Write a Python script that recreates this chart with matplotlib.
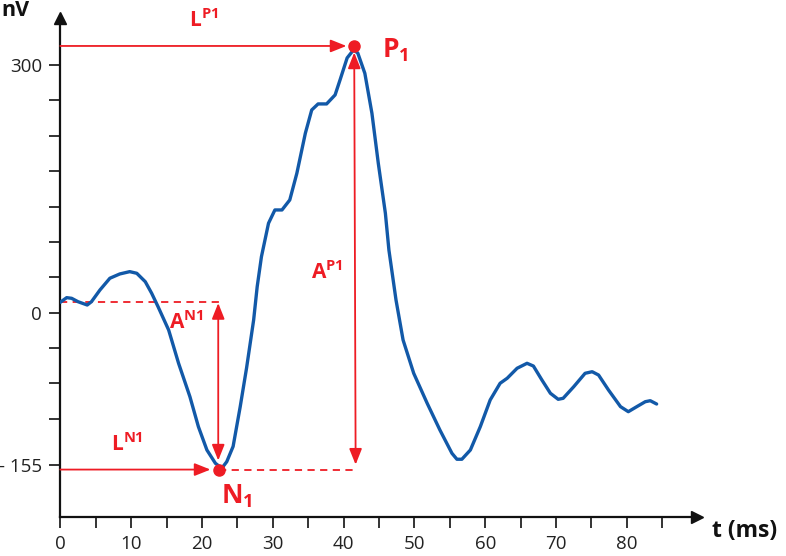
import matplotlib
matplotlib.use("Agg")
import matplotlib.pyplot as plt
import numpy as np

plt.rcParams['font.family'] = ['Open Sans', 'DejaVu Sans']
plt.rcParams['mathtext.fontset'] = 'custom'
plt.rcParams['mathtext.bf'] = 'Open Sans:bold'
plt.rcParams['mathtext.rm'] = 'Open Sans'
plt.rcParams['mathtext.it'] = 'Open Sans:italic'

# ---- data ----
t_ms = [0.0, 0.9, 1.6, 2.5, 3.8, 4.4, 5.6, 7.0, 8.4, 9.8, 10.8, 12.0, 12.9, 13.8,
        15.3, 16.7, 18.3, 19.5, 20.7, 21.9, 22.8, 23.5, 24.4, 25.4, 26.3, 27.3,
        27.8, 28.4, 29.4, 30.3, 31.3, 32.4, 33.4, 34.6, 35.5, 36.4, 37.6, 38.8,
        39.5, 40.5, 41.4, 42.0, 43.0, 44.0, 44.9, 45.9, 46.4, 47.4, 48.4, 49.9,
        51.8, 53.6, 55.3, 56.0, 56.7, 57.9, 59.3, 60.7, 62.1, 63.1, 64.5, 65.9,
        66.8, 68.0, 69.2, 70.3, 71.0, 72.5, 74.1, 75.1, 76.0, 77.4, 79.1, 80.2,
        81.4, 82.6, 83.3, 84.2]
amp_nv = [12.6, 18.2, 17.4, 13.3, 9.3, 13.3, 27.5, 41.7, 46.9, 49.7, 47.7, 37.5, 23.5, 7.3,
          -21.0, -61.3, -101.7, -138.1, -166.3, -182.4, -188.4, -180.5, -162.0, -114.0, -67.0, -8.8,
          31.5, 67.8, 108.3, 124.4, 124.4, 136.5, 168.8, 217.3, 245.5, 252.8, 252.8, 263.7,
          281.9, 308.5, 318.2, 314.5, 289.9, 241.5, 180.9, 120.4, 75.8, 15.4, -33.1, -73.4,
          -109.7, -142.1, -170.3, -177.5, -177.5, -166.3, -138.1, -105.7, -85.5, -79.4, -67.3, -61.3,
          -64.6, -81.5, -97.6, -104.9, -103.7, -89.6, -73.4, -71.5, -75.5, -93.6, -113.8, -119.9,
          -113.8, -107.8, -106.6, -110.6]

x_major = [0, 10, 20, 30, 40, 50, 60, 70, 80]
x_minor = [5, 15, 25, 35, 45, 55, 65, 75, 85]
y_tick_pos = [300, 0, -184]
y_tick_labels = ['300', '0', '- 155']
y_minor = [k * 300 / 7 for k in range(-3, 7)]

P1 = (41.4, 323)        # peak marker
N1 = (22.4, -191)       # trough marker
N1_baseline = 12.6      # baseline level used for A^N1

RED = '#ee1c24'
BLUE = '#1259a8'

W, H = 786, 556
fig = plt.figure(figsize=(W / 100, H / 100), dpi=100)
# axes placed so the spines sit where the reference draws them
x0, xa, ytop, yax = 60.3, 697, 18.3, 517.3
ax = fig.add_axes([x0 / W, (H - yax) / H, (xa - x0) / W, (yax - ytop) / H])
ax.set_xlim(0, 89.9)
ax.set_ylim(-247.8, 356.5)

for s in ['top', 'right']:
    ax.spines[s].set_visible(False)
for s in ['left', 'bottom']:
    ax.spines[s].set_linewidth(1.6)
    ax.spines[s].set_color('#111111')

ax.plot(1, 0, '>', color='#111111', ms=9, transform=ax.transAxes, clip_on=False)
ax.plot(0, 1, '^', color='#111111', ms=9, transform=ax.transAxes, clip_on=False)

ax.set_xticks(x_major)
ax.set_xticklabels([str(v) for v in x_major])
ax.set_xticks(x_minor, minor=True)
ax.set_yticks(y_tick_pos)
ax.set_yticklabels(y_tick_labels)
ax.set_yticks(y_minor, minor=True)
ax.tick_params(which='both', direction='out', length=8, width=1.2, color='#111111')
ax.tick_params(axis='x', pad=5, labelsize=13.5, labelcolor='#222222')
ax.tick_params(axis='y', pad=5, labelsize=13.5, labelcolor='#222222')

# waveform
ax.plot(t_ms, amp_nv, color=BLUE, lw=2.4, solid_joinstyle='round', solid_capstyle='round', zorder=3)

# dashed helper lines
ax.plot([0, N1[0] + 0.4], [N1_baseline, N1_baseline], ls=(0, (4, 3)), color=RED, lw=1.3, zorder=2)
ax.plot([N1[0], P1[0] + 0.4], [N1[1] + 1, N1[1] + 1], ls=(0, (4, 3)), color=RED, lw=1.3, zorder=2)

arrow1 = dict(arrowstyle='-|>,head_length=0.8,head_width=0.32', color=RED, lw=1.3,
              shrinkA=0, shrinkB=0, mutation_scale=12)
arrow2 = dict(arrowstyle='<|-|>,head_length=0.8,head_width=0.32', color=RED, lw=1.3,
              shrinkA=0, shrinkB=0, mutation_scale=12)

# latency arrows
ax.annotate('', xy=(P1[0] - 1.0, P1[1]), xytext=(0, P1[1]), arrowprops=arrow1, zorder=4)
ax.annotate('', xy=(N1[0] - 1.2, N1[1] + 1), xytext=(0, N1[1] + 1), arrowprops=arrow1, zorder=4)
# amplitude arrows
ax.annotate('', xy=(P1[0] + 0.1, P1[1] - 8), xytext=(P1[0] + 0.3, N1[1] + 7), arrowprops=arrow2, zorder=4)
ax.annotate('', xy=(N1[0] - 0.1, N1_baseline - 1), xytext=(N1[0] - 0.1, N1[1] + 12), arrowprops=arrow2, zorder=4)

# markers
ax.plot([P1[0]], [P1[1]], 'o', color=RED, ms=8, zorder=5, clip_on=False)
ax.plot([N1[0]], [N1[1]], 'o', color=RED, ms=8, zorder=5, clip_on=False)

# labels
kw = dict(color=RED, clip_on=False)
ax.text(20.3, 354, r'$\mathbf{L^{P1}}$', fontsize=15, ha='center', va='center', **kw)
ax.text(9.4, -160, r'$\mathbf{L^{N1}}$', fontsize=15, ha='center', va='center', **kw)
ax.text(15.4, -12, r'$\mathbf{A^{N1}}$', fontsize=15, ha='left', va='center', **kw)
ax.text(35.4, 49, r'$\mathbf{A^{P1}}$', fontsize=15, ha='left', va='center', **kw)
ax.text(45.4, 318, r'$\mathbf{P_1}$', fontsize=19, ha='left', va='center', **kw)
ax.text(22.7, -222, r'$\mathbf{N_1}$', fontsize=19, ha='left', va='center', **kw)

fig.text(1 / W, 1 - 10 / H, 'nV', fontsize=15.5, fontweight='bold', ha='left', va='center', color='#111111')
fig.text(712 / W, 1 - 531 / H, 't (ms)', fontsize=16.5, fontweight='bold', ha='left', va='center', color='#111111')

fig.savefig('out.png', dpi=100)
